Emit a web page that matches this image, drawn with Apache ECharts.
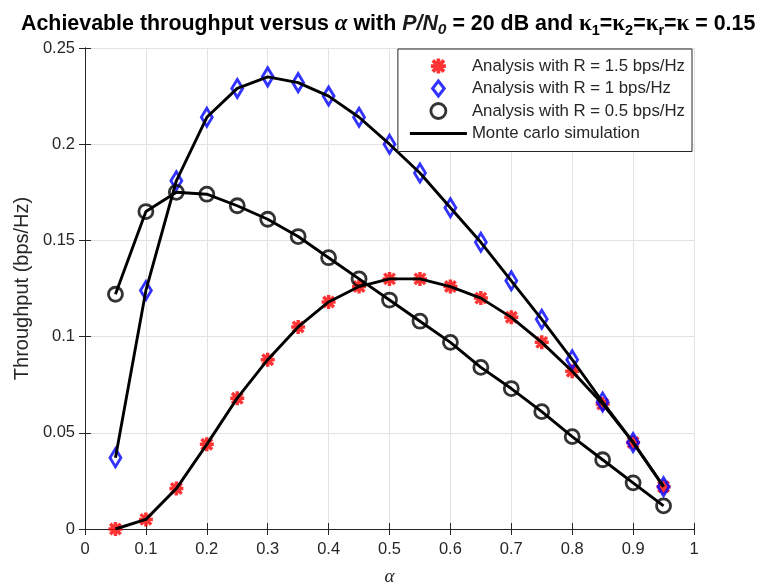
<!DOCTYPE html>
<html>
<head>
<meta charset="utf-8">
<title>Achievable throughput</title>
<script src="https://cdn.jsdelivr.net/npm/echarts@6/dist/echarts.min.js"></script>
<style>
  html, body { margin: 0; padding: 0; background: #fff; }
  #chart { width: 762px; height: 588px; }
</style>
</head>
<body>
<div id="chart"></div>
<script>
// alpha values (x axis)
const alpha = [0.05, 0.1, 0.15, 0.2, 0.25, 0.3, 0.35, 0.4, 0.45, 0.5,
  0.55, 0.6, 0.65, 0.7, 0.75, 0.8, 0.85, 0.9, 0.95]
// analysis, R = 1.5 bps/Hz
const analysisR15 = [0.000, 0.005, 0.021, 0.044, 0.068, 0.088, 0.105, 0.118, 0.126, 0.130,
  0.130, 0.126, 0.120, 0.110, 0.097, 0.082, 0.065, 0.045, 0.022]
// analysis, R = 1 bps/Hz
const analysisR1 = [0.037, 0.124, 0.181, 0.214, 0.229, 0.235, 0.232, 0.225, 0.214, 0.200,
  0.185, 0.167, 0.149, 0.129, 0.109, 0.088, 0.066, 0.045, 0.022]
// analysis, R = 0.5 bps/Hz
const analysisR05 = [0.122, 0.165, 0.175, 0.174, 0.168, 0.161, 0.152, 0.141, 0.130, 0.119,
  0.108, 0.097, 0.084, 0.073, 0.061, 0.048, 0.036, 0.024, 0.012]
// monte carlo curves (they run through the analysis markers)
const simR15 = [0.000, 0.005, 0.021, 0.044, 0.068, 0.088, 0.105, 0.118, 0.126, 0.130,
  0.130, 0.126, 0.120, 0.110, 0.097, 0.082, 0.065, 0.045, 0.022]
const simR1 = [0.037, 0.124, 0.181, 0.214, 0.229, 0.235, 0.232, 0.225, 0.214, 0.200,
  0.185, 0.167, 0.149, 0.129, 0.109, 0.088, 0.066, 0.045, 0.022]
const simR05 = [0.122, 0.165, 0.175, 0.174, 0.168, 0.161, 0.152, 0.141, 0.130, 0.119,
  0.108, 0.097, 0.084, 0.073, 0.061, 0.048, 0.036, 0.024, 0.012]

const legendNames = ['Analysis with R = 1.5 bps/Hz', 'Analysis with R = 1 bps/Hz',
  'Analysis with R = 0.5 bps/Hz', 'Monte carlo simulation']

const pairs = ys => alpha.map((a, i) => [a, ys[i]])

// asterisk marker (matlab '*' drawn with a thick line)
const star = 'path://M7.5,0L12.5,0L12.5,20L7.5,20Z M0,7.5L20,7.5L20,12.5L0,12.5Z ' +
  'M4.27,0.73L19.27,15.73L15.73,19.27L0.73,4.27Z M15.73,0.73L19.27,4.27L4.27,19.27L0.73,15.73Z'
const diamond = 'path://M7,0L14,9L7,18L0,9Z'
const bar = 'path://M0,0L57,0L57,3L0,3Z'

const ink = '#262626'
const font = 'Liberation Sans, Arial, sans-serif'

let myChart = echarts.init(document.getElementById('chart'))

const sim = (ys) => ({
  name: legendNames[3],
  type: 'line',
  data: pairs(ys),
  symbol: 'none',
  lineStyle: { color: '#000', width: 2.9 },
  itemStyle: { color: '#000' },
  z: 3
})

myChart.setOption({
  animation: false,
  title: {
    left: 16,
    top: 6,
    text: '{b|Achievable throughput versus }{g|α}{b| with }{i|P/N}{is|0}{b| = 20 dB and }' +
      '{k|κ}{s|1}{b|=}{k|κ}{s|2}{b|=}{k|κ}{s|r}{b|=}{k|κ}{b| = 0.15}',
    textStyle: {
      rich: {
        b: { fontFamily: font, fontWeight: 'bold', fontSize: 21.4, color: '#000', lineHeight: 27 },
        i: { fontFamily: font, fontWeight: 'bold', fontStyle: 'italic', fontSize: 21.4, color: '#1a1a1a', lineHeight: 27 },
        is: { fontFamily: font, fontWeight: 'bold', fontStyle: 'italic', fontSize: 15.5, color: '#1a1a1a', lineHeight: 14, verticalAlign: 'bottom' },
        g: { fontFamily: 'Liberation Serif, serif', fontStyle: 'italic', fontSize: 23, color: '#000', lineHeight: 27 },
        k: { fontFamily: 'Liberation Serif, serif', fontSize: 23, color: '#000', lineHeight: 27 },
        s: { fontFamily: font, fontWeight: 'bold', fontSize: 14.5, color: '#000', lineHeight: 10, verticalAlign: 'bottom' }
      }
    }
  },
  legend: {
    orient: 'vertical',
    right: 70,
    top: 49,
    selectedMode: false,
    backgroundColor: '#fff',
    borderColor: ink,
    borderWidth: 1,
    padding: [8, 7, 9, 12],
    itemWidth: 57,
    itemHeight: 15,
    itemGap: 4.5,
    textStyle: { fontFamily: font, fontSize: 16.8, color: ink, lineHeight: 18 },
    data: [
      { name: legendNames[0] },
      { name: legendNames[1], itemStyle: { borderWidth: 3 } },
      { name: legendNames[2], itemStyle: { borderWidth: 2.8 } },
      { name: legendNames[3], icon: bar }
    ]
  },
  grid: { left: 85, right: 68, top: 48, bottom: 59, outerBoundsMode: 'none' },
  xAxis: [
    {
      type: 'value',
      min: 0,
      max: 1,
      interval: 0.1,
      name: 'α',
      nameLocation: 'middle',
      nameGap: 38,
      nameTextStyle: { fontFamily: 'Liberation Serif, serif', fontStyle: 'italic', fontSize: 19, color: ink },
      axisLine: { lineStyle: { color: ink, width: 1 } },
      axisTick: { inside: true, length: 6, lineStyle: { color: ink } },
      axisLabel: { fontFamily: font, fontSize: 16.5, color: ink, margin: 12 },
      splitLine: { show: true, lineStyle: { color: '#e2e2e2', width: 1 } }
    },
    {
      type: 'value',
      position: 'top',
      min: 0,
      max: 1,
      interval: 0.1,
      axisLine: { show: true, lineStyle: { color: ink, width: 1 } },
      axisTick: { show: true, inside: true, length: 6, lineStyle: { color: ink } },
      axisLabel: { show: false },
      splitLine: { show: false }
    }
  ],
  yAxis: [
    {
      type: 'value',
      min: 0,
      max: 0.25,
      interval: 0.05,
      name: 'Throughput (bps/Hz)',
      nameLocation: 'middle',
      nameGap: 53,
      nameTextStyle: { fontFamily: font, fontSize: 20, color: ink },
      axisLine: { show: true, lineStyle: { color: ink, width: 1 } },
      axisTick: { show: true, inside: true, length: 6, lineStyle: { color: ink } },
      axisLabel: { fontFamily: font, fontSize: 16.5, color: ink, margin: 10 },
      splitLine: { show: true, lineStyle: { color: '#e2e2e2', width: 1 } }
    },
    {
      type: 'value',
      position: 'right',
      min: 0,
      max: 0.25,
      interval: 0.05,
      axisLine: { show: true, lineStyle: { color: ink, width: 1 } },
      axisTick: { show: true, inside: true, length: 6, lineStyle: { color: ink } },
      axisLabel: { show: false },
      splitLine: { show: false }
    }
  ],
  series: [
    {
      name: legendNames[0],
      type: 'scatter',
      data: pairs(analysisR15),
      symbol: star,
      symbolSize: 14,
      symbolKeepAspect: true,
      itemStyle: { color: '#ff0000' },
      z: 2
    },
    {
      name: legendNames[1],
      type: 'scatter',
      data: pairs(analysisR1),
      symbol: diamond,
      symbolSize: [14, 18],
      symbolKeepAspect: true,
      itemStyle: { color: 'rgba(255,255,255,0)', borderColor: '#0000ff', borderWidth: 3 },
      z: 2
    },
    {
      name: legendNames[2],
      type: 'scatter',
      data: pairs(analysisR05),
      symbol: 'circle',
      symbolSize: 14,
      itemStyle: { color: 'rgba(255,255,255,0)', borderColor: '#000', borderWidth: 2.8 },
      z: 2
    },
    sim(simR15),
    sim(simR1),
    sim(simR05)
  ]
})
</script>
</body>
</html>
